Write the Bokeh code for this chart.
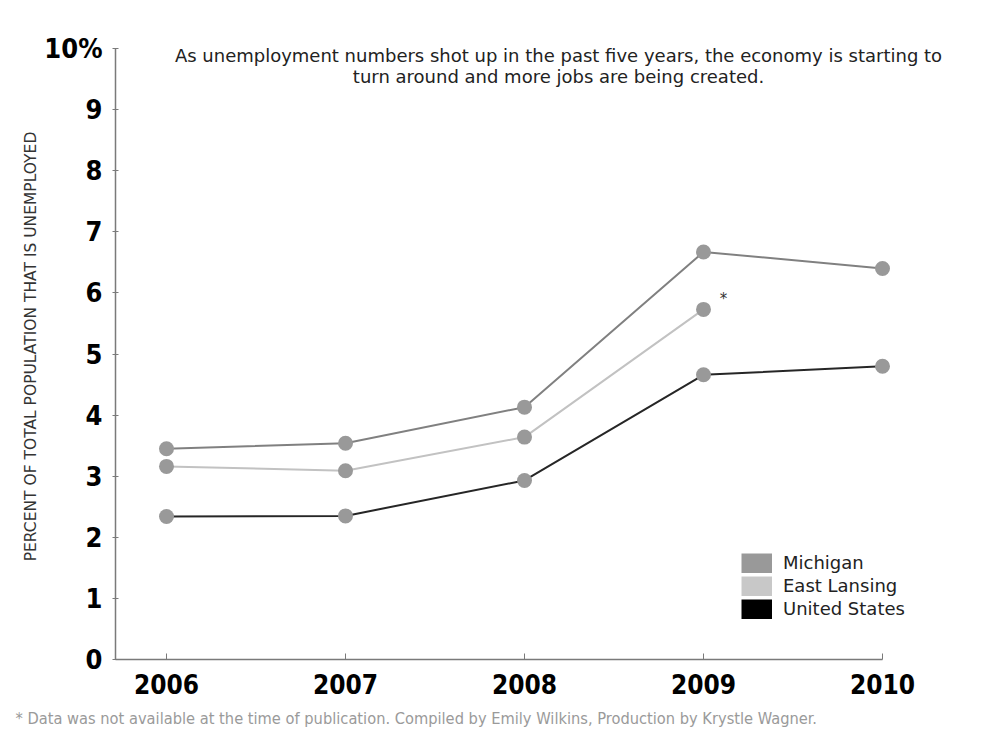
from math import pi
from bokeh.plotting import figure
from bokeh.models import FixedTicker, Label, Legend, LegendItem, Range1d, Title
from bokeh.embed import file_html
from bokeh.resources import INLINE

# ---------------- data ----------------
years = [2006, 2007, 2008, 2009, 2010]
year_labels = ["2006", "2007", "2008", "2009", "2010"]
michigan = [3.45, 3.54, 4.13, 6.67, 6.40]
east_lansing_years = [2006, 2007, 2008, 2009]
east_lansing = [3.16, 3.09, 3.64, 5.73]
united_states = [2.34, 2.35, 2.93, 4.66, 4.80]
y_ticks = [0, 1, 2, 3, 4, 5, 6, 7, 8, 9, 10]
y_tick_labels = ["0", "1", "2", "3", "4", "5", "6", "7", "8", "9", "10%"]
series_names = ["Michigan", "East Lansing", "United States"]
title_lines = [
    "As unemployment numbers shot up in the past five years, the economy is starting to",
    "turn around and more jobs are being created.",
]
y_title = "PERCENT OF TOTAL POPULATION THAT IS UNEMPLOYED"
footnote = ("* Data was not available at the time of publication. "
            "Compiled by Emily Wilkins, Production by Krystle Wagner.")

# ---------------- layout helpers (page px -> data) ----------------
XS = 179.0   # px per year
YS = 61.1    # px per percentage point
def px_x(px):
    return 2006 + (px - 166) / XS
def px_y(py):
    return (659 - py) / YS

W, H = 1000, 746
FL, FR, FT, FB = 115, 990, 33, 659   # frame edges in page px
NARROW = "'Liberation Sans Narrow', 'DejaVu Sans Condensed', 'Roboto Condensed', Roboto, sans-serif"
SANS = "DejaVu Sans"

p = figure(width=W, height=H, output_backend="svg", toolbar_location=None,
           x_range=Range1d(px_x(FL), px_x(FR)), y_range=Range1d(0, px_y(FT)),
           min_border_left=FL, min_border_right=W - FR, min_border_top=FT,
           min_border_bottom=H - FB)
p.outline_line_color = None
p.xgrid.visible = False
p.ygrid.visible = False
p.background_fill_color = "white"
p.border_fill_color = "white"

# axes
xa = p.xaxis[0]
xa.ticker = FixedTicker(ticks=years)
xa.major_label_overrides = dict(zip(years, year_labels))
xa.bounds = (px_x(FL), 2010)
xa.axis_line_color = "#7a7a7a"
xa.axis_line_width = 1.5
xa.major_tick_line_color = "#7a7a7a"
xa.major_tick_in = 6
xa.major_tick_out = 0
xa.minor_tick_line_color = None
xa.major_label_standoff = 14
xa.major_label_text_font = NARROW
xa.major_label_text_font_style = "bold"
xa.major_label_text_font_size = "26px"
xa.major_label_text_color = "black"

ya = p.yaxis[0]
ya.ticker = FixedTicker(ticks=y_ticks)
ya.major_label_overrides = dict(zip(y_ticks, y_tick_labels))
ya.bounds = (0, 10)
ya.axis_line_color = "#7a7a7a"
ya.axis_line_width = 1.5
ya.major_tick_line_color = "#7a7a7a"
ya.major_tick_in = 3
ya.major_tick_out = 3
ya.minor_tick_line_color = None
ya.major_label_standoff = 10
ya.major_label_text_font = NARROW
ya.major_label_text_font_style = "bold"
ya.major_label_text_font_size = "27px"
ya.major_label_text_color = "black"
ya.axis_label = y_title
ya.axis_label_text_font = SANS
ya.axis_label_text_font_style = "normal"
ya.axis_label_text_font_size = "15.5px"
ya.axis_label_text_color = "#333333"
ya.axis_label_standoff = 1

# lines
p.line(years, michigan, line_color="#808080", line_width=2)
p.line(east_lansing_years, east_lansing, line_color="#c2c2c2", line_width=2)
p.line(years, united_states, line_color="#262626", line_width=2)

# markers
for xs, ys in [(years, michigan), (east_lansing_years, east_lansing), (years, united_states)]:
    p.scatter(xs, ys, size=15, fill_color="#999999", line_color=None)

# asterisk for missing 2010 East Lansing value
p.add_layout(Label(x=east_lansing_years[-1], y=east_lansing[-1], x_offset=20, y_offset=10,
                   text="*", text_font=SANS, text_font_size="15px", text_color="#333333",
                   text_align="center", text_baseline="middle"))

# legend with square swatches (dummy thick-line renderers outside the visible range)
swatch_colors = ["#999999", "#c8c8c8", "#000000"]
items = []
for name, c in zip(series_names, swatch_colors):
    r = p.line(x=[years[0], years[1]], y=[-50, -50], line_color=c, line_width=20,
               line_cap="butt")
    items.append(LegendItem(label=name, renderers=[r]))
legend = Legend(items=items, location=(741 - FL, FB - 619), orientation="vertical",
                glyph_width=31, glyph_height=20, label_height=20, spacing=2,
                padding=0, margin=0, border_line_color=None, background_fill_alpha=0,
                label_text_font=SANS, label_text_font_size="18px",
                label_text_color="#222222", label_standoff=11)
p.add_layout(legend)

# title lines
for i, t in enumerate(title_lines):
    p.add_layout(Label(x=px_x(558), y=px_y(55 + 21 * i), text=t, text_font=SANS,
                       text_font_size="18px", text_color="#222222",
                       text_align="center", text_baseline="middle"))

# footnote
p.add_layout(Title(text=footnote, align="left", offset=15 - FL, standoff=20,
                   text_font=NARROW, text_font_size="16.3px", text_font_style="normal",
                   text_color="#9a9a9a"), "below")

open("out.html", "w").write(file_html(p, INLINE))
